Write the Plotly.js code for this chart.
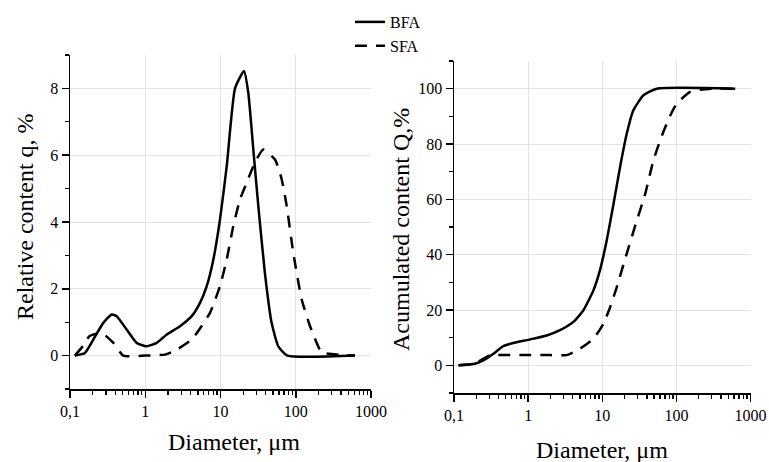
<!DOCTYPE html>
<html>
<head>
<meta charset="utf-8">
<script src="https://cdn.plot.ly/plotly-3.0.1.min.js"></script>
<style>html,body{margin:0;padding:0;background:#fff;}#chart{width:769px;height:462px;}</style>
</head>
<body>
<div id="chart"></div>
<script>
// Left panel: relative content q, %
const bfaQx = [0.116, 0.158, 0.204, 0.277, 0.358, 0.417, 0.566, 0.77, 1.04, 1.42, 1.93, 2.9, 4.14, 5.34, 6.56, 8.04, 9.85, 12.1, 15.6, 20.5, 23.4, 27.3, 31.8, 38.9, 47.8, 58.6, 77.3, 612];
const bfaQy = [0, 0.08, 0.48, 0.98, 1.23, 1.18, 0.78, 0.38, 0.28, 0.38, 0.63, 0.88, 1.18, 1.58, 2.08, 2.88, 4.08, 5.67, 8.0, 8.52, 7.87, 6.17, 4.48, 2.48, 0.98, 0.28, 0, 0];
const sfaQx = [0.116, 0.15, 0.181, 0.263, 0.377, 0.51, 1.0, 1.83, 2.62, 4.14, 5.6, 7.25, 9.85, 12.1, 14.8, 18.2, 22.3, 28.7, 37, 53, 65, 75.8, 92.7, 120, 155, 190, 221, 612];
const sfaQy = [0, 0.3, 0.58, 0.68, 0.38, 0, 0, 0.03, 0.18, 0.48, 0.88, 1.28, 2.08, 2.88, 3.88, 4.68, 5.18, 5.78, 6.17, 5.87, 5.28, 4.48, 3.08, 1.68, 0.88, 0.38, 0.1, 0];

// Right panel: accumulated content Q, %
const bfaCx = [0.115, 0.19, 0.249, 0.34, 0.46, 0.63, 1.03, 1.78, 2.69, 4.08, 5.57, 7.6, 9.3, 11.5, 14.2, 17.4, 21.4, 26.3, 36, 54.4, 622];
const bfaCy = [0, 0.6, 1.8, 4.2, 6.9, 8.1, 9.3, 10.8, 12.7, 15.7, 19.9, 27.1, 34.3, 45.2, 58.4, 71.7, 83.7, 92.2, 97.6, 100, 100];
const sfaCx = [0.115, 0.19, 0.249, 0.306, 0.5, 1.0, 2.0, 3.3, 5.0, 7.6, 10.4, 12.8, 15.7, 21.4, 29.3, 38, 49, 64, 83, 101, 153, 209, 300, 622];
const sfaCy = [0, 0.6, 2.4, 3.6, 3.7, 3.7, 3.7, 3.7, 6.0, 9.6, 15.1, 21.1, 28.3, 40.4, 52.4, 62, 74.1, 83.1, 90.4, 94.6, 98.8, 99.6, 100, 100];

const seriesNames = ['BFA', 'SFA'];
const axisTitles = ['Diameter, μm', 'Relative content q, %', 'Acumulated content Q,%'];

const W = 769, H = 462;
const font = 'Liberation Serif, Times New Roman, serif';
const solid = {color: '#000', width: 2.5, shape: 'spline', smoothing: 0.5};
const dashed = {color: '#000', width: 2.5, dash: '12px,9px', shape: 'spline', smoothing: 0.5};

const traces = [
  {x: bfaQx, y: bfaQy, name: seriesNames[0], mode: 'lines', line: solid, xaxis: 'x', yaxis: 'y', showlegend: true},
  {x: sfaQx, y: sfaQy, name: seriesNames[1], mode: 'lines', line: dashed, xaxis: 'x', yaxis: 'y', showlegend: true},
  {x: bfaCx, y: bfaCy, name: seriesNames[0], mode: 'lines', line: solid, xaxis: 'x2', yaxis: 'y2', showlegend: false},
  {x: sfaCx, y: sfaCy, name: seriesNames[1], mode: 'lines', line: dashed, xaxis: 'x2', yaxis: 'y2', showlegend: false}
];

function xAxis(domain, anchor) {
  return {
    type: 'log', domain: domain, anchor: anchor, range: [-1, 3],
    tickmode: 'linear', tick0: 0, dtick: 1, exponentformat: 'none',
    ticks: 'outside', ticklen: 7, tickwidth: 1.5, tickcolor: '#000',
    showline: true, linecolor: '#000', linewidth: 1.5,
    showgrid: true, gridcolor: '#e3e3e3', gridwidth: 1, zeroline: false,
    minor: {dtick: 'D1', ticks: 'outside', ticklen: 4, tickwidth: 1.3, tickcolor: '#000', showgrid: false},
    tickfont: {family: font, size: 16, color: '#000'}
  };
}
function yAxis(domain, anchor, range, d) {
  return {
    domain: domain, anchor: anchor, range: range,
    tickmode: 'linear', tick0: 0, dtick: d,
    ticks: 'outside', ticklen: 7, tickwidth: 1.5, tickcolor: '#000',
    showline: true, linecolor: '#000', linewidth: 1.5,
    showgrid: true, gridcolor: '#e3e3e3', gridwidth: 1, zeroline: false,
    minor: {tick0: 0, dtick: d / 2, ticks: 'outside', ticklen: 4, tickwidth: 1.3, tickcolor: '#000', showgrid: false},
    tickfont: {family: font, size: 16, color: '#000'}
  };
}

const layout = {
  width: W, height: H,
  margin: {l: 0, r: 0, t: 0, b: 0},
  separators: ', ',
  paper_bgcolor: '#fff', plot_bgcolor: '#fff',
  showlegend: true,
  legend: {x: 350 / W, y: 1 - 5 / H, xanchor: 'left', yanchor: 'top', bgcolor: 'rgba(0,0,0,0)',
           font: {family: font, size: 16, color: '#000'}, tracegroupgap: 0},
  xaxis: xAxis([70 / W, 371 / W], 'y'),
  yaxis: yAxis([1 - 389 / H, 1 - 55 / H], 'x', [-1, 9], 2),
  xaxis2: xAxis([454 / W, 750.5 / W], 'y2'),
  yaxis2: yAxis([1 - 393 / H, 1 - 61 / H], 'x2', [-10, 110], 20),
  annotations: [
    {text: axisTitles[0], x: 234 / W, y: 1 - 442 / H, xref: 'paper', yref: 'paper', showarrow: false, xanchor: 'center', yanchor: 'middle', font: {family: font, size: 24, color: '#000'}},
    {text: axisTitles[0], x: 602 / W, y: 1 - 450 / H, xref: 'paper', yref: 'paper', showarrow: false, xanchor: 'center', yanchor: 'middle', font: {family: font, size: 24, color: '#000'}},
    {text: axisTitles[1], x: 25 / W, y: 1 - 217 / H, xref: 'paper', yref: 'paper', showarrow: false, textangle: -90, xanchor: 'center', yanchor: 'middle', font: {family: font, size: 24, color: '#000'}},
    {text: axisTitles[2], x: 401 / W, y: 1 - 230 / H, xref: 'paper', yref: 'paper', showarrow: false, textangle: -90, xanchor: 'center', yanchor: 'middle', font: {family: font, size: 24, color: '#000'}}
  ]
};

Plotly.newPlot('chart', traces, layout, {displayModeBar: false, staticPlot: true});
</script>
</body>
</html>
